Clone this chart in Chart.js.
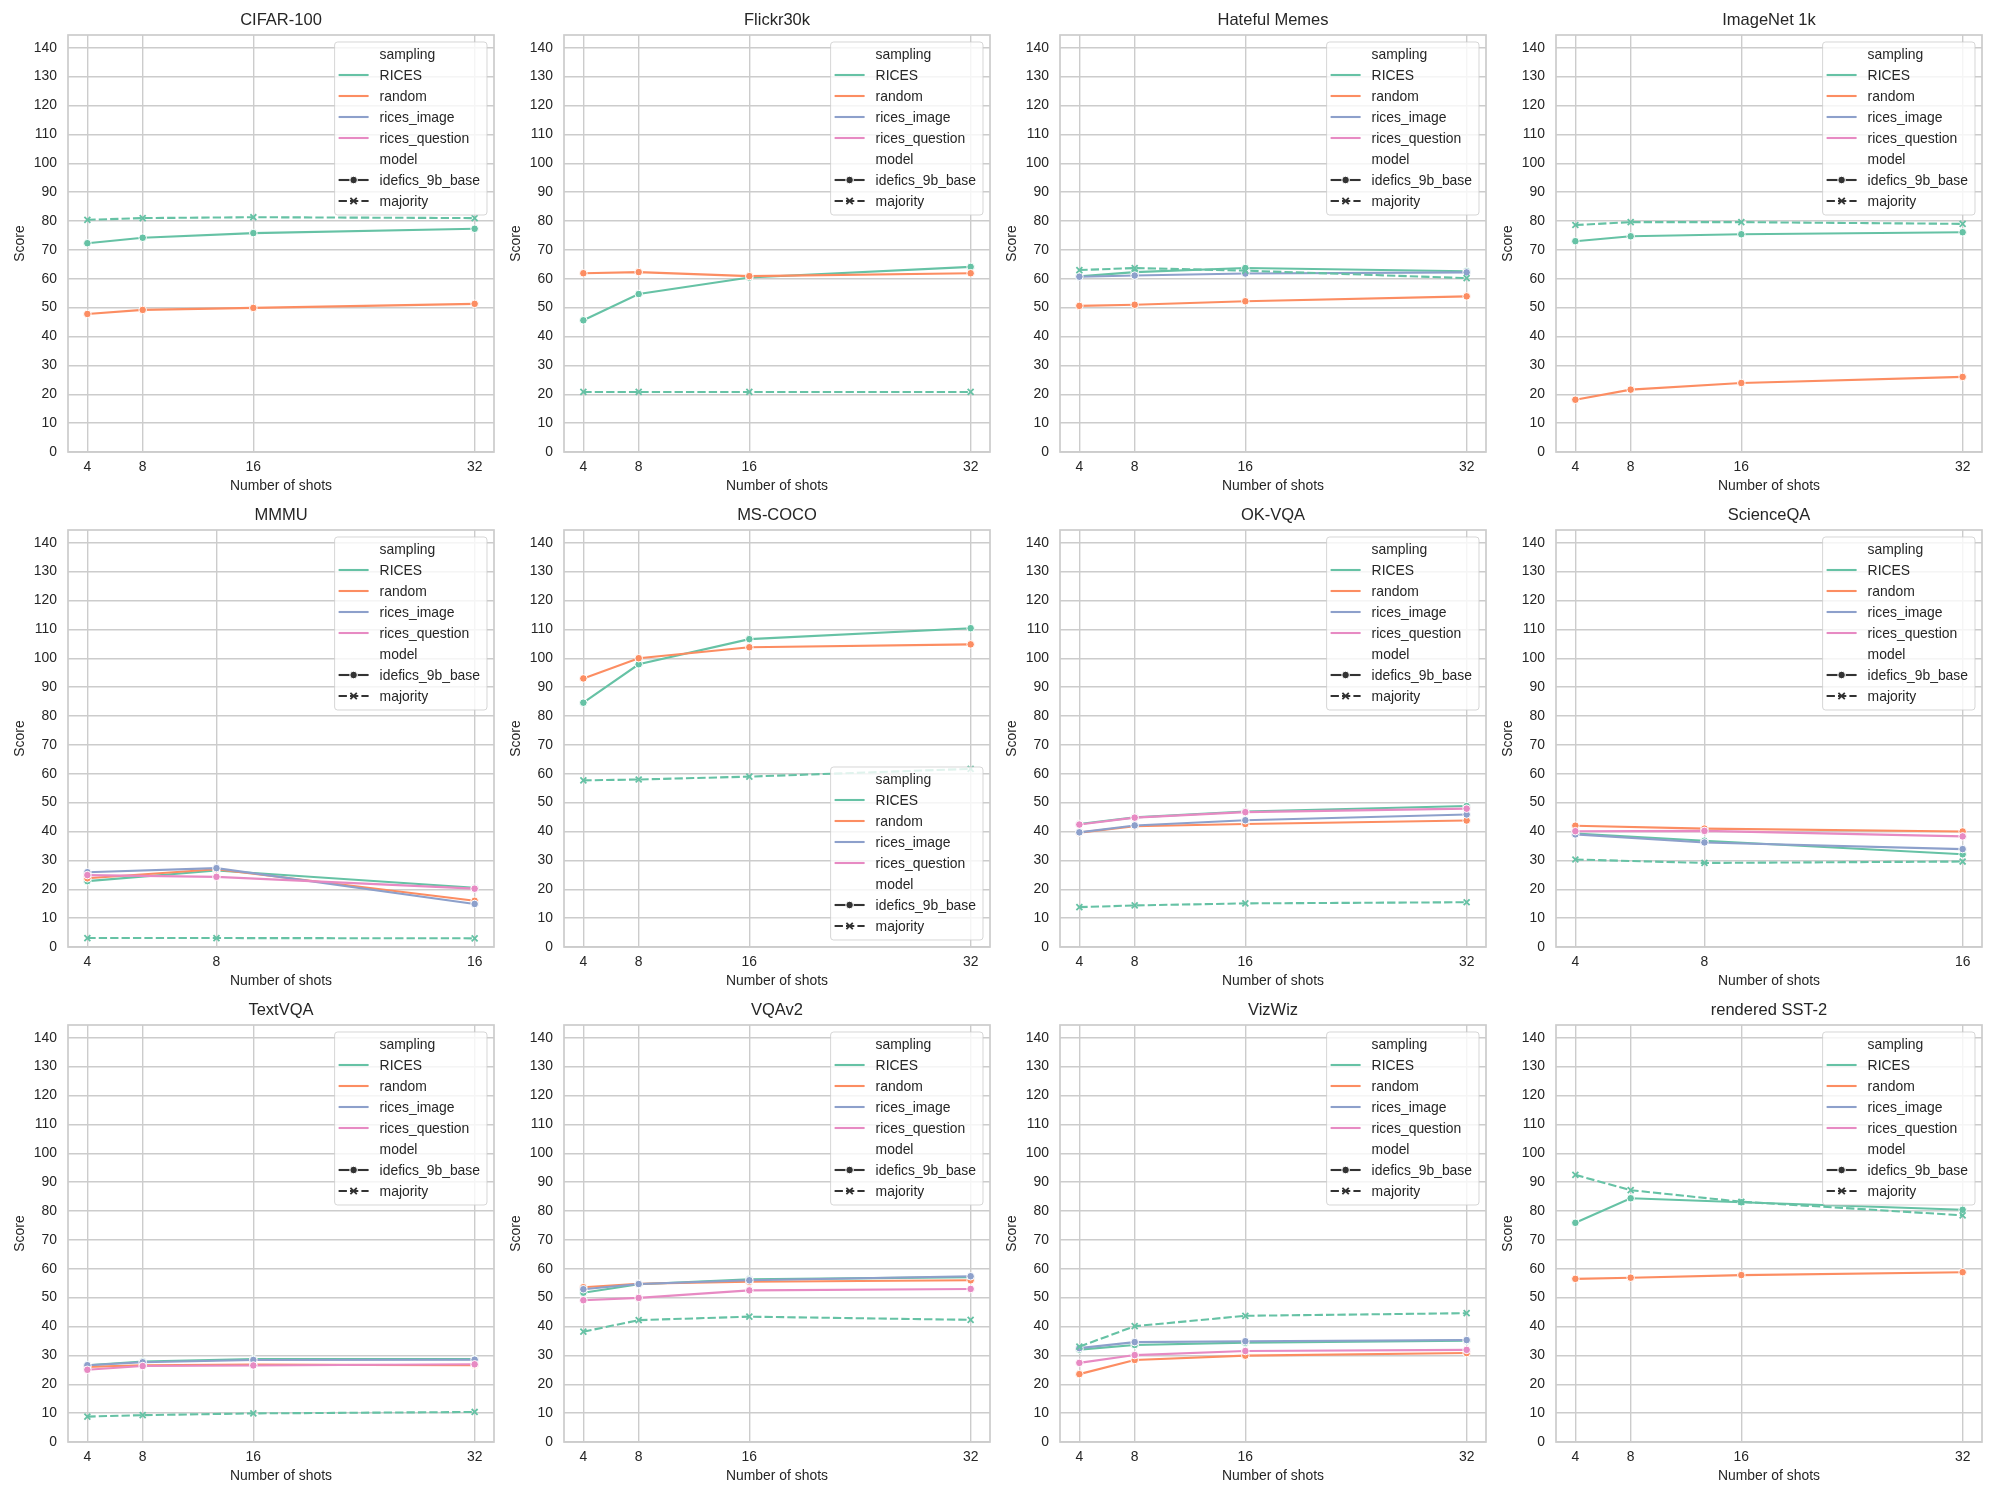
<!DOCTYPE html>
<html>
<head>
<meta charset="utf-8">
<title>Score vs number of shots</title>
<script src="https://cdn.jsdelivr.net/npm/chart.js@4.4.1/dist/chart.umd.min.js"></script>
<style>
  html, body { margin: 0; padding: 0; background: #fff; }
  #grid { position: relative; width: 2000px; height: 1500px; }
  #grid canvas { position: absolute; }
</style>
</head>
<body>
<div id="grid"></div>
<script>
// shots on the x axis and score ticks
const shotsLong = [4, 8, 16, 32];
const shotsShort = [4, 8, 16];
const yTicks = [0, 10, 20, 30, 40, 50, 60, 70, 80, 90, 100, 110, 120, 130, 140];
const yMax = 144.4;

const samplingNames = ['RICES', 'random', 'rices_image', 'rices_question'];
const samplingColors = ['#66c2a5', '#fc8d62', '#8da0cb', '#e78ac3'];
const modelNames = ['idefics_9b_base', 'majority'];

// scores
const cifarRices = [72.3, 74.2, 75.8, 77.3];
const cifarRandom = [47.8, 49.2, 49.9, 51.3];
const cifarMajority = [80.4, 81.0, 81.3, 81.0];

const flickrRices = [45.6, 54.7, 60.4, 64.1];
const flickrRandom = [61.9, 62.3, 60.9, 61.9];
const flickrMajority = [20.8, 20.8, 20.8, 20.8];

const memesRices = [60.8, 62.3, 63.7, 62.6];
const memesRandom = [50.6, 51.0, 52.2, 53.9];
const memesImage = [60.7, 61.1, 61.8, 62.2];
const memesMajority = [63.0, 63.7, 62.8, 60.2];

const imagenetRices = [73.0, 74.7, 75.4, 76.1];
const imagenetRandom = [18.1, 21.6, 23.9, 26.0];
const imagenetMajority = [78.6, 79.6, 79.6, 79.0];

const mmmuRices = [22.8, 26.5, 20.5];
const mmmuRandom = [23.8, 26.9, 16.0];
const mmmuImage = [25.9, 27.3, 14.9];
const mmmuQuestion = [24.9, 24.3, 20.2];
const mmmuMajority = [3.1, 3.1, 3.0];

const cocoRices = [84.6, 97.9, 106.6, 110.4];
const cocoRandom = [93.0, 100.0, 103.8, 104.8];
const cocoMajority = [57.7, 58.0, 59.0, 61.7];

const okvqaRices = [42.6, 44.9, 46.9, 48.8];
const okvqaRandom = [39.6, 41.8, 42.6, 43.8];
const okvqaImage = [39.7, 42.1, 43.9, 45.9];
const okvqaQuestion = [42.4, 44.8, 46.7, 47.9];
const okvqaMajority = [13.8, 14.4, 15.1, 15.5];

const sqaRices = [39.3, 36.8, 32.1];
const sqaRandom = [42.0, 41.0, 40.0];
const sqaImage = [39.0, 36.2, 33.9];
const sqaQuestion = [40.1, 40.2, 38.3];
const sqaMajority = [30.3, 29.1, 29.6];

const textvqaRices = [26.6, 27.9, 28.7, 28.7];
const textvqaRandom = [26.0, 26.6, 26.8, 26.6];
const textvqaImage = [26.6, 27.6, 28.4, 28.5];
const textvqaQuestion = [25.0, 26.3, 26.5, 26.9];
const textvqaMajority = [8.8, 9.3, 9.9, 10.4];

const vqav2Rices = [51.7, 54.6, 56.3, 57.1];
const vqav2Random = [53.6, 54.8, 55.5, 56.0];
const vqav2Image = [52.9, 54.7, 56.0, 57.4];
const vqav2Question = [49.1, 49.9, 52.5, 53.0];
const vqav2Majority = [38.2, 42.2, 43.4, 42.3];

const vizwizRices = [32.0, 33.6, 34.4, 35.1];
const vizwizRandom = [23.5, 28.4, 29.9, 30.8];
const vizwizImage = [32.5, 34.6, 34.9, 35.3];
const vizwizQuestion = [27.4, 30.1, 31.5, 31.9];
const vizwizMajority = [33.0, 40.1, 43.7, 44.6];

const sstRices = [75.9, 84.4, 83.0, 80.4];
const sstRandom = [56.5, 56.9, 57.8, 58.8];
const sstMajority = [92.5, 87.2, 83.2, 78.5];

const panels = [
    { title: 'CIFAR-100', x: shotsLong, sampling: [cifarRices, cifarRandom, null, null], majority: cifarMajority },
    { title: 'Flickr30k', x: shotsLong, sampling: [flickrRices, flickrRandom, null, null], majority: flickrMajority },
    { title: 'Hateful Memes', x: shotsLong, sampling: [memesRices, memesRandom, memesImage, null], majority: memesMajority },
    { title: 'ImageNet 1k', x: shotsLong, sampling: [imagenetRices, imagenetRandom, null, null], majority: imagenetMajority },
    { title: 'MMMU', x: shotsShort, sampling: [mmmuRices, mmmuRandom, mmmuImage, mmmuQuestion], majority: mmmuMajority },
    { title: 'MS-COCO', x: shotsLong, sampling: [cocoRices, cocoRandom, null, null], majority: cocoMajority, legendLow: true },
    { title: 'OK-VQA', x: shotsLong, sampling: [okvqaRices, okvqaRandom, okvqaImage, okvqaQuestion], majority: okvqaMajority },
    { title: 'ScienceQA', x: shotsShort, sampling: [sqaRices, sqaRandom, sqaImage, sqaQuestion], majority: sqaMajority },
    { title: 'TextVQA', x: shotsLong, sampling: [textvqaRices, textvqaRandom, textvqaImage, textvqaQuestion], majority: textvqaMajority },
    { title: 'VQAv2', x: shotsLong, sampling: [vqav2Rices, vqav2Random, vqav2Image, vqav2Question], majority: vqav2Majority },
    { title: 'VizWiz', x: shotsLong, sampling: [vizwizRices, vizwizRandom, vizwizImage, vizwizQuestion], majority: vizwizMajority },
    { title: 'rendered SST-2', x: shotsLong, sampling: [sstRices, sstRandom, null, null], majority: sstMajority }
];

const FONT = '"Liberation Sans", Arial, sans-serif';
const TEXT = '#262626';
const GRID = '#cccccc';
const HANDLE = '#333333';

Chart.defaults.font.family = FONT;
Chart.defaults.color = TEXT;

// axes frame on all four sides, like the matplotlib spines
const framePlugin = {
    id: 'frame',
    beforeDatasetsDraw(chart) {
        const a = chart.chartArea, ctx = chart.ctx;
        ctx.save();
        ctx.strokeStyle = GRID;
        ctx.lineWidth = 1.7;
        ctx.strokeRect(a.left, a.top, a.right - a.left, a.bottom - a.top);
        ctx.restore();
    }
};

// seaborn style legend: hue section + style section
const seabornLegend = {
    id: 'sbLegend',
    afterDatasetsDraw(chart, args, opts) {
        const ctx = chart.ctx, a = chart.chartArea;
        const rows = [{ text: 'sampling' }];
        samplingNames.forEach((n, i) => rows.push({ text: n, kind: 'hue', color: samplingColors[i] }));
        rows.push({ text: 'model' });
        rows.push({ text: modelNames[0], kind: 'solid' });
        rows.push({ text: modelNames[1], kind: 'dashed' });

        ctx.save();
        ctx.font = '13.9px ' + FONT;
        const maxW = Math.max(...rows.map(r => ctx.measureText(r.text).width));
        const w = 45 + maxW + 7;
        const h = 12 + (rows.length - 1) * 21 + 14;
        const x = a.right - 7 - w;
        const y = opts.low ? a.bottom - 7 - h : a.top + 7;

        ctx.beginPath();
        if (ctx.roundRect) ctx.roundRect(x, y, w, h, 3); else ctx.rect(x, y, w, h);
        ctx.fillStyle = 'rgba(255,255,255,0.8)';
        ctx.fill();
        ctx.strokeStyle = 'rgba(204,204,204,0.8)';
        ctx.lineWidth = 1;
        ctx.stroke();

        rows.forEach((r, i) => {
            const cy = y + 12 + i * 21;
            const hx0 = x + 4, hx1 = x + 34, hm = x + 19;
            if (r.kind) {
                ctx.beginPath();
                ctx.moveTo(hx0, cy);
                ctx.lineTo(hx1, cy);
                ctx.lineWidth = 2.1;
                ctx.strokeStyle = r.kind === 'hue' ? r.color : HANDLE;
                ctx.setLineDash(r.kind === 'dashed' ? [8.3, 3.1] : []);
                ctx.stroke();
                ctx.setLineDash([]);
                if (r.kind === 'solid') {
                    ctx.beginPath();
                    ctx.arc(hm, cy, 3.8, 0, Math.PI * 2);
                    ctx.fillStyle = HANDLE;
                    ctx.fill();
                    ctx.strokeStyle = '#fff';
                    ctx.lineWidth = 1;
                    ctx.stroke();
                } else if (r.kind === 'dashed') {
                    ctx.beginPath();
                    ctx.moveTo(hm - 3.2, cy - 3.2); ctx.lineTo(hm + 3.2, cy + 3.2);
                    ctx.moveTo(hm - 3.2, cy + 3.2); ctx.lineTo(hm + 3.2, cy - 3.2);
                    ctx.strokeStyle = HANDLE;
                    ctx.lineWidth = 1.8;
                    ctx.stroke();
                }
            }
            ctx.fillStyle = TEXT;
            ctx.textBaseline = 'middle';
            ctx.textAlign = 'left';
            ctx.fillText(r.text, x + 45, cy + 1);
        });
        ctx.restore();
    }
};

function buildDatasets(p) {
    const out = [];
    p.sampling.forEach((vals, i) => {
        if (!vals) return;
        out.push({
            label: samplingNames[i],
            data: p.x.map((s, k) => ({ x: s, y: vals[k] })),
            borderColor: samplingColors[i],
            backgroundColor: samplingColors[i],
            borderWidth: 2.1,
            pointRadius: 3.8,
            pointBorderColor: '#ffffff',
            pointBorderWidth: 1,
            pointBackgroundColor: samplingColors[i],
            tension: 0,
            order: 4 - i
        });
    });
    out.push({
        label: 'majority',
        data: p.x.map((s, k) => ({ x: s, y: p.majority[k] })),
        borderColor: samplingColors[0],
        backgroundColor: samplingColors[0],
        borderWidth: 2.1,
        borderDash: [8.3, 3.1],
        pointStyle: 'crossRot',
        pointRadius: 4.2,
        pointBorderWidth: 1.8,
        pointBorderColor: samplingColors[0],
        tension: 0,
        order: 0
    });
    return out;
}

const grid = document.getElementById('grid');

panels.forEach((p, idx) => {
    const col = idx % 4, row = Math.floor(idx / 4);
    const canvas = document.createElement('canvas');
    canvas.width = 500;
    canvas.height = 495;
    canvas.style.left = (col * 496) + 'px';
    canvas.style.top = (row * 495) + 'px';
    canvas.style.width = '500px';
    canvas.style.height = '495px';
    grid.appendChild(canvas);

    const span = p.x[p.x.length - 1] - p.x[0];
    new Chart(canvas.getContext('2d'), {
        type: 'line',
        data: { datasets: buildDatasets(p) },
        plugins: [framePlugin, seabornLegend],
        options: {
            responsive: false,
            animation: false,
            devicePixelRatio: 1,
            layout: { padding: { left: 0, right: 4, top: 0, bottom: 0 } },
            plugins: {
                legend: { display: false },
                tooltip: { enabled: false },
                title: {
                    display: true,
                    text: p.title,
                    fullSize: false,
                    color: TEXT,
                    font: { size: 16.5, weight: 'normal' },
                    padding: { top: 11, bottom: 4.2 }
                },
                sbLegend: { low: !!p.legendLow }
            },
            scales: {
                x: {
                    type: 'linear',
                    min: p.x[0] - span * 0.05,
                    max: p.x[p.x.length - 1] + span * 0.05,
                    afterBuildTicks: s => { s.ticks = p.x.map(v => ({ value: v })); },
                    afterFit: s => { s.height = 43; },
                    grid: { color: GRID, lineWidth: 1.4, drawTicks: false },
                    border: { display: false },
                    ticks: { color: TEXT, font: { size: 13.9 }, padding: 7, maxRotation: 0, callback: v => String(v) },
                    title: { display: true, text: 'Number of shots', color: TEXT, font: { size: 13.9 }, padding: { top: 0, bottom: 0 } }
                },
                y: {
                    min: 0,
                    max: yMax,
                    afterBuildTicks: s => { s.ticks = yTicks.map(v => ({ value: v })); },
                    afterFit: s => { s.width = 68; },
                    grid: { color: GRID, lineWidth: 1.4, drawTicks: false },
                    border: { display: false },
                    ticks: { color: TEXT, font: { size: 13.9 }, padding: 11 },
                    title: { display: true, text: 'Score', color: TEXT, font: { size: 13.9 }, padding: { top: 12, bottom: 0 } }
                }
            }
        }
    });
});
</script>
</body>
</html>
